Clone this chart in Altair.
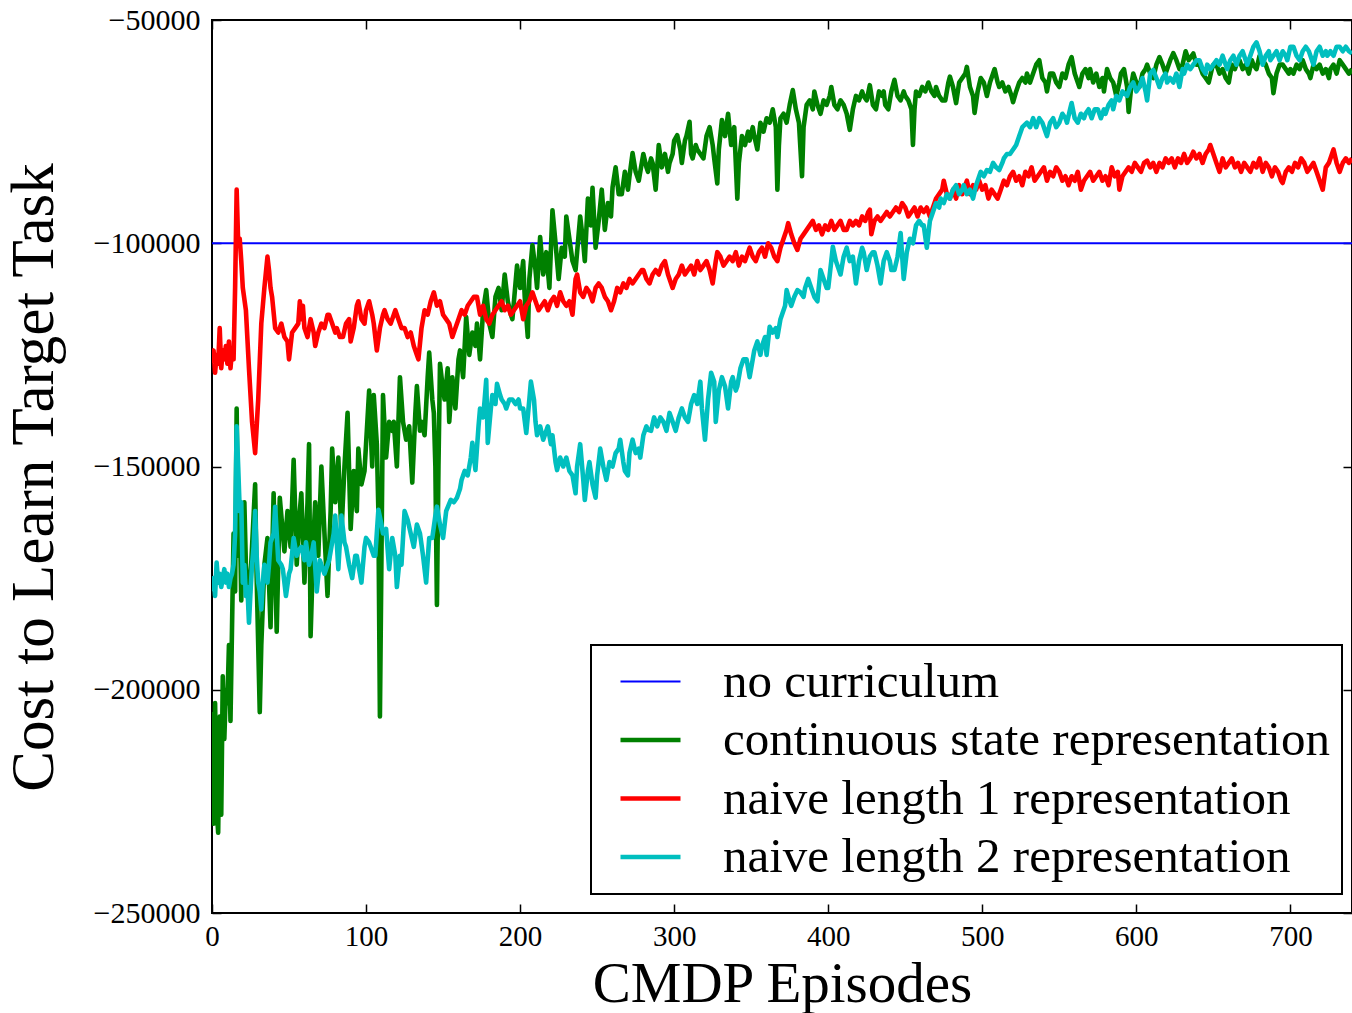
import altair as alt
import pandas as pd

# ---- data (values in thousands) ----
SERIES = ["no curriculum", "continuous state representation",
          "naive length 1 representation", "naive length 2 representation"]
COLORS = ["#0000ff", "#008000", "#ff0000", "#00bfbf"]
WIDTHS = [2, 4.6, 4.6, 4.6]
X_TICKS = [0, 100, 200, 300, 400, 500, 600, 700]
Y_TICKS = [-250000, -200000, -150000, -100000, -50000]

no_curriculum = [(0, -100), (740, -100)]

continuous = [
    (0, -205), (1, -230), (2, -203), (3, -226), (4, -232), (5, -206), (6, -228), (7, -197), (8, -211),
    (9, -200), (10, -203), (11, -190), (12, -207), (13, -186), (14, -165), (15, -178), (16, -137),
    (17, -170), (18, -160), (19, -180), (20, -165), (21, -158), (22, -172), (24, -182), (26, -168),
    (28, -154), (29, -175), (31, -205), (32, -190), (34, -172), (36, -166), (38, -186), (40, -156),
    (42, -187), (44, -157), (46, -165), (47, -169), (49, -160), (51, -168), (53, -148.5), (55, -172),
    (57, -160), (58, -156), (60, -176), (62, -158), (63, -145), (64, -188), (66, -165), (67, -158),
    (69, -170), (71, -150), (73, -165), (75, -179), (77, -160), (78, -146), (80, -158), (82, -148),
    (84, -165), (86, -150), (88, -138), (90, -164), (92, -151), (94, -160), (95, -146), (97, -154),
    (99, -151), (100, -145), (102, -133), (104, -150), (105, -134), (107, -145), (108, -160), (109, -206),
    (110, -170), (111, -134), (113, -148), (115, -140), (117, -142), (118, -140), (120, -150), (122, -130),
    (124, -140), (126, -144), (128, -141), (130, -153.6), (132, -138), (133, -132), (135, -142), (136, -140),
    (138, -143), (140, -130), (141, -124.5), (143, -135), (144, -138), (145, -150), (146, -181), (147, -150),
    (148, -127), (150, -133), (151, -135), (153, -128), (154, -140), (156, -130), (158, -137), (160, -126),
    (161, -124), (163, -130), (165, -116.5), (167, -125), (169, -120), (171, -123), (172, -118), (174, -126),
    (176, -115), (178, -110.5), (180, -118), (182, -121), (184, -112), (186, -110), (188, -115), (190, -107),
    (192, -113), (194, -116), (195, -117), (197, -109), (198, -105), (200, -110), (202, -104), (203, -112),
    (205, -121), (206, -108), (208, -100.4), (210, -106), (211, -110), (213, -98.6), (215, -107), (217, -102),
    (219, -110), (221, -92.6), (223, -100), (225, -108), (227, -101), (229, -103), (230, -94), (232, -99),
    (234, -104), (236, -106), (238, -98), (239, -94), (241, -100), (242, -104), (244, -90), (246, -96),
    (247, -87.6), (249, -101), (251, -95), (253, -88), (255, -97), (257, -91), (259, -94), (260, -87.5),
    (262, -83), (264, -89), (266, -89), (268, -84), (270, -88), (271, -85), (273, -79.8), (275, -84),
    (277, -86), (279, -82), (280, -80), (282, -83), (283, -84), (285, -81), (286, -82), (288, -88),
    (290, -78), (292, -83), (294, -80), (296, -84), (297, -82), (299, -80), (300, -77), (302, -75.8),
    (304, -79), (305, -82), (307, -77), (308, -76), (310, -72.8), (311, -80), (312, -81), (314, -78),
    (315, -79), (317, -80), (319, -81), (321, -76), (323, -74), (325, -78), (326, -81), (328, -86.6),
    (329, -79), (331, -72.4), (333, -76), (335, -71), (337, -78), (338, -76), (339, -74), (341, -90),
    (342, -82), (344, -76), (346, -78), (348, -75), (349, -77), (351, -74), (352, -76), (354, -79),
    (356, -73), (358, -75), (360, -72), (362, -73), (364, -70), (366, -74), (367, -88), (368, -78),
    (369, -72), (371, -71), (373, -73), (375, -69), (377, -65.7), (379, -70), (381, -73), (383, -85),
    (384, -74), (386, -69), (388, -68), (390, -70), (391, -66), (393, -69), (395, -71), (397, -68),
    (399, -69), (401, -67), (402, -65), (404, -69), (406, -70), (408, -68), (410, -69), (412, -71),
    (414, -74.6), (416, -70), (418, -67), (420, -68), (422, -66), (423, -67), (425, -68), (427, -64.6),
    (429, -69), (431, -70), (433, -66), (435, -67), (436, -66), (437, -69), (439, -70), (441, -66),
    (443, -63.4), (445, -67), (447, -68), (449, -66), (450, -67), (452, -68), (454, -70), (455, -78),
    (456, -70), (457, -66), (459, -67), (461, -65), (463, -66), (465, -64), (467, -66), (469, -67),
    (470, -65), (472, -67), (474, -68), (476, -68), (478, -64), (479, -62.7), (481, -65), (483, -68.6),
    (485, -64), (487, -63), (489, -62), (490, -60.5), (492, -65), (494, -67), (495, -70.8), (497, -66),
    (499, -63), (501, -64), (503, -67), (505, -64), (507, -62), (508, -61), (510, -64), (511, -65),
    (513, -64), (515, -66), (517, -65), (519, -67), (520, -68.4), (522, -66), (524, -64), (526, -63),
    (528, -64), (529, -62), (531, -64), (533, -62), (535, -60), (537, -59), (539, -63), (541, -64),
    (542, -66), (544, -62), (546, -62), (548, -64), (550, -65), (552, -62), (554, -63), (556, -60),
    (558, -58.3), (560, -62), (562, -64), (563, -65), (565, -62), (567, -61), (569, -63), (570, -61),
    (572, -64), (574, -62), (576, -65), (578, -63), (579, -66), (581, -61), (583, -63), (585, -64),
    (587, -67), (589, -64), (590, -62), (592, -61), (594, -65), (595, -70.6), (597, -64), (598, -62),
    (600, -64), (602, -65), (604, -62), (606, -61), (607, -60), (609, -62), (611, -63), (613, -60),
    (615, -58.3), (617, -60), (619, -62), (620, -61), (622, -59), (624, -57.4), (626, -59), (628, -61),
    (630, -60), (632, -57), (634, -59), (636, -58), (637, -57.5), (639, -60), (641, -60), (643, -62),
    (645, -63), (647, -64), (649, -61), (650, -60), (652, -60), (654, -62), (656, -61), (658, -63),
    (660, -64), (662, -60), (664, -61), (666, -59), (667, -59), (669, -61), (671, -60), (673, -62),
    (675, -59), (676, -60), (678, -61), (680, -58), (682, -59), (684, -60), (686, -62), (688, -63),
    (689, -66.4), (691, -62), (693, -60), (695, -60), (697, -61), (699, -62), (700, -61), (702, -62),
    (704, -60), (706, -61), (708, -59), (710, -61), (712, -62), (713, -63), (715, -60), (717, -61),
    (719, -60), (721, -62), (723, -61), (725, -63), (726, -61), (728, -60), (730, -62), (732, -59),
    (734, -60), (736, -61), (738, -62), (740, -61),
]

naive1 = [
    (0, -127), (1, -124), (2, -129), (3, -125), (4, -127), (5, -119), (6, -128), (7, -124), (8, -126),
    (9, -123), (10, -127), (11, -122), (12, -128), (13, -124), (14, -126), (15, -110), (16, -88),
    (17, -100), (18, -99), (19, -104), (20, -110), (22, -115), (24, -128), (26, -140), (28, -147),
    (30, -135), (32, -118), (34, -110), (36, -103), (37, -106), (38, -110), (39, -112), (41, -119),
    (43, -120), (45, -118), (47, -121), (49, -122), (50, -126), (52, -120), (54, -119), (56, -118),
    (57, -113), (58, -117), (59, -114), (60, -119), (62, -121), (64, -117), (66, -120), (67, -123),
    (69, -120), (71, -118), (73, -119), (75, -116), (76, -116), (78, -118), (80, -120), (81, -119),
    (83, -121), (85, -121), (87, -118), (89, -117), (90, -122), (92, -119), (94, -114), (95, -113),
    (97, -117), (99, -118), (100, -115), (102, -113), (104, -116), (105, -118), (107, -124), (109, -119),
    (111, -116), (112, -115), (114, -117), (116, -118), (118, -116), (119, -115), (121, -117), (123, -119),
    (125, -119), (127, -121), (129, -120), (131, -123), (133, -125), (134, -126), (136, -119), (138, -115),
    (140, -116), (142, -113), (144, -111), (146, -114), (148, -113), (150, -116), (152, -117), (154, -118),
    (156, -121), (158, -119), (160, -117), (162, -115), (164, -116), (166, -114), (168, -113), (170, -112),
    (172, -112), (174, -116), (176, -114), (178, -117), (180, -118), (182, -116), (184, -115), (186, -114),
    (188, -113), (190, -115), (192, -114), (194, -116), (196, -115), (198, -114), (200, -113), (202, -117),
    (204, -114), (206, -113), (208, -111), (210, -113), (212, -115), (214, -114), (216, -113), (218, -115),
    (220, -113), (222, -112), (224, -114), (226, -111), (228, -113), (230, -114), (232, -113), (234, -116),
    (236, -108), (237, -107), (239, -111), (241, -112), (243, -110), (245, -111), (247, -113), (249, -110),
    (251, -109), (253, -110), (255, -112), (257, -113), (259, -115), (261, -113), (263, -110), (265, -111),
    (267, -109), (269, -110), (271, -108), (273, -109), (275, -108), (277, -107), (279, -106), (280, -106),
    (282, -108), (284, -109), (286, -107), (288, -106), (290, -107), (292, -105), (294, -104), (296, -107),
    (298, -109), (299, -110), (301, -108), (303, -107), (305, -105), (307, -107), (309, -106), (311, -105),
    (313, -107), (315, -104), (317, -106), (319, -105), (321, -104), (323, -106), (325, -109), (327, -104),
    (328, -102), (330, -103), (332, -105), (334, -104), (336, -103), (338, -104), (340, -102), (342, -105),
    (344, -103), (346, -104), (348, -102), (349, -101), (351, -103), (353, -104), (355, -102), (357, -101),
    (359, -103), (361, -100), (363, -101), (365, -103), (367, -104), (369, -101), (371, -99), (373, -97),
    (374, -95.5), (376, -98), (378, -100), (380, -101.5), (382, -99), (384, -98), (386, -97), (388, -96),
    (390, -95), (392, -97), (394, -96), (396, -98), (398, -96), (400, -97), (402, -95), (404, -97),
    (406, -96), (408, -95), (410, -97), (412, -97), (414, -95), (416, -96), (418, -95), (420, -96),
    (422, -94), (424, -95), (426, -93), (427, -92.5), (428, -98), (430, -95), (432, -94), (434, -95),
    (436, -94), (438, -93), (440, -94), (442, -93), (444, -92), (446, -93), (448, -91), (450, -92),
    (452, -94), (454, -93), (456, -92), (458, -94), (460, -92), (462, -93), (464, -92), (466, -94),
    (468, -92), (470, -90), (472, -89), (474, -88), (475, -86), (477, -89), (479, -90), (481, -88),
    (483, -90), (485, -87), (487, -89), (488, -88), (490, -86), (492, -89), (494, -87), (496, -88),
    (498, -86), (500, -88), (502, -87), (504, -90), (506, -88), (508, -89), (510, -90), (512, -88),
    (514, -86), (516, -87), (518, -85), (520, -84), (522, -86), (524, -85), (526, -87), (528, -84),
    (530, -85), (532, -83), (534, -86), (536, -85), (538, -84), (540, -83), (542, -86), (544, -84),
    (546, -85), (548, -83), (550, -84), (552, -86), (554, -85), (556, -87), (558, -85), (560, -86),
    (562, -84), (564, -88), (566, -86), (568, -85), (570, -84), (572, -86), (574, -85), (576, -84),
    (578, -86), (580, -85), (582, -87), (584, -83), (586, -85), (588, -84), (589, -88), (591, -85),
    (593, -84), (595, -83), (597, -84), (599, -82), (601, -83), (603, -84), (605, -82), (607, -81.5),
    (609, -83), (611, -82), (613, -84), (615, -82), (617, -83), (619, -81), (621, -82), (623, -81),
    (625, -83), (627, -81), (629, -82), (631, -80), (633, -82), (635, -81), (637, -79.5), (639, -81),
    (641, -80), (643, -82), (645, -80), (647, -79), (648, -78), (650, -80), (652, -82), (654, -84),
    (656, -81), (658, -83), (660, -82), (662, -81), (664, -83), (666, -82), (668, -84), (670, -82),
    (672, -83), (674, -84), (676, -82), (678, -83), (680, -81), (682, -84), (684, -82), (686, -83),
    (688, -85), (690, -83), (692, -84), (694, -86), (695, -86.5), (697, -84), (699, -83), (701, -84),
    (703, -82), (705, -83), (707, -81), (709, -82), (711, -84), (713, -83), (715, -82), (717, -84),
    (719, -86), (721, -88), (723, -83), (725, -82), (727, -80), (728, -79), (730, -82), (732, -84),
    (734, -82), (736, -81), (738, -82), (740, -81),
]

naive2 = [
    (0, -178), (1, -175), (2, -179), (3, -171.5), (4, -176), (5, -174), (6, -177), (7, -175), (8, -173),
    (9, -176), (10, -174), (11, -177), (12, -175), (13, -174), (14, -172), (15, -165), (16, -141),
    (17, -150), (18, -160), (19, -158), (20, -176), (21, -172), (22, -179), (23, -177), (24, -185),
    (25, -178), (26, -172), (27, -168), (28, -160), (29, -170), (30, -176), (31, -178), (32, -182),
    (33, -176), (34, -172), (35, -174), (36, -176), (37, -172), (38, -167), (40, -165), (41, -159),
    (42, -165), (43, -171), (45, -172), (46, -173), (47, -176), (48, -179), (50, -174), (51, -173),
    (53, -166), (55, -170), (56, -169), (58, -168), (60, -171), (61, -167), (63, -172), (65, -169),
    (66, -167), (68, -178), (70, -171), (71, -172), (73, -174), (74, -173), (76, -171), (77, -169),
    (79, -165), (80, -161), (82, -173), (84, -161), (86, -167), (87, -168), (89, -172), (91, -175),
    (93, -170), (94, -170), (96, -174), (97, -176), (99, -168), (100, -166), (102, -167), (103, -168),
    (105, -170), (106, -170), (108, -159.7), (110, -163), (111, -165), (113, -164), (115, -173), (117, -166),
    (119, -170), (120, -177), (122, -170), (123, -172), (125, -160), (127, -162), (129, -165), (131, -168),
    (133, -163), (135, -165), (137, -170), (139, -176), (141, -166), (143, -166), (145, -161), (146, -159),
    (148, -163), (150, -166), (152, -160), (155, -157.5), (157, -158), (159, -157), (161, -155), (162, -153),
    (164, -151), (166, -152), (168, -148), (169, -144.7), (171, -150.8), (173, -141), (174, -137), (176, -139),
    (177, -135), (178, -130.6), (179, -144.7), (181, -137), (182, -134), (184, -136), (185, -131.5), (187, -134),
    (188, -135), (190, -136), (191, -137), (193, -135), (195, -135), (197, -136), (199, -135), (200, -137),
    (202, -137), (204, -142.5), (206, -135), (207, -131), (209, -135), (210, -140), (211, -143), (213, -141),
    (215, -144), (217, -142), (218, -141), (220, -145), (221, -143), (223, -149), (224, -150.8), (226, -148),
    (228, -150), (230, -148), (232, -151), (234, -152), (236, -156), (237, -150), (239, -145), (241, -153),
    (242, -157.5), (244, -151), (245, -149), (247, -154), (249, -157), (250, -152), (252, -146), (254, -150),
    (256, -153), (258, -149), (260, -150), (262, -147), (264, -146), (265, -144), (267, -149), (268, -151),
    (270, -152), (271, -147), (273, -144), (275, -147), (277, -146), (278, -148), (280, -143), (282, -141),
    (283, -141.8), (285, -142), (287, -139), (289, -141), (291, -139), (293, -140), (295, -142), (297, -138),
    (299, -140), (301, -142), (303, -139), (305, -137), (307, -139), (309, -140), (311, -136), (313, -134),
    (315, -136), (317, -131), (318, -137), (320, -144), (322, -135), (324, -129), (326, -131), (327, -140),
    (329, -133), (331, -130), (333, -132), (335, -137), (337, -131), (338, -130), (340, -133), (341, -132),
    (343, -128), (345, -126), (347, -126), (349, -130), (351, -126), (352, -124), (354, -122), (356, -125),
    (357, -123), (359, -121), (360, -125), (362, -118.7), (364, -120), (366, -119), (367, -121), (369, -117),
    (370, -116), (372, -114), (373, -110.5), (375, -113), (376, -114), (378, -112), (380, -110.5), (382, -111),
    (384, -112), (385, -110), (387, -108), (389, -110), (391, -112), (393, -113), (395, -106), (397, -108),
    (399, -110), (400, -110), (402, -104), (403, -100.8), (405, -104), (407, -106), (408, -107), (410, -103),
    (412, -101), (414, -104), (416, -103), (418, -109), (420, -104), (422, -101), (423, -102), (425, -106),
    (427, -103), (429, -102), (430, -102), (432, -105), (434, -109), (436, -104), (438, -102), (440, -104),
    (441, -106), (443, -106), (445, -103), (447, -97.7), (449, -108), (451, -102), (453, -99), (455, -100),
    (457, -96), (459, -95), (461, -96), (462, -96), (464, -101), (466, -95), (468, -93), (470, -91),
    (472, -92), (473, -90), (475, -91), (477, -89), (479, -90), (481, -88), (483, -87), (485, -89),
    (487, -88), (488, -87), (490, -89), (492, -88), (494, -90), (496, -87), (498, -85), (499, -84),
    (501, -85), (503, -83.6), (505, -84), (507, -82), (509, -83), (511, -83.6), (513, -82), (514, -81),
    (516, -80), (518, -80), (520, -79), (522, -78), (524, -76), (526, -74), (529, -73), (531, -74),
    (533, -72), (535, -74), (537, -72), (539, -73), (541, -75), (542, -76), (544, -73), (546, -72),
    (548, -74), (550, -73), (552, -71), (554, -72), (555, -73), (557, -70), (558, -68.6), (560, -72),
    (562, -73), (564, -71), (566, -72), (567, -71), (569, -70), (571, -72), (573, -70), (575, -70),
    (577, -72), (579, -70), (580, -71), (582, -69), (584, -68), (585, -70), (587, -67), (589, -68),
    (591, -66), (594, -67), (596, -65), (598, -64), (600, -66), (602, -65), (604, -63), (606, -66),
    (607, -68), (609, -62), (611, -61.2), (613, -63), (615, -65), (617, -63), (619, -62), (620, -64),
    (622, -63), (624, -64), (626, -62), (628, -65), (630, -61), (631, -62), (633, -60), (635, -61),
    (637, -60), (639, -59), (641, -59), (643, -61), (645, -62), (646, -60), (648, -61), (650, -60),
    (652, -59), (654, -60), (656, -58), (658, -60), (659, -61), (661, -59), (663, -58), (665, -60),
    (667, -58), (669, -57), (671, -59), (672, -60), (674, -58), (676, -56), (678, -55), (680, -57),
    (682, -60), (684, -58), (686, -57), (687, -59), (689, -58), (691, -57), (693, -59), (695, -57),
    (697, -58), (698, -59), (700, -56), (702, -56), (704, -58), (706, -59), (708, -57), (710, -56),
    (712, -57), (714, -59), (715, -60), (717, -57), (719, -56), (721, -58), (723, -57), (724, -58),
    (726, -57), (728, -58), (730, -56), (732, -56), (734, -57), (736, -56), (738, -57), (740, -57.5),
]

rows = []
for name, pts in zip(SERIES, [no_curriculum, continuous, naive1, naive2]):
    for ep, v in pts:
        rows.append({"episode": ep, "cost": v * 1000, "series": name})
df = pd.DataFrame(rows)

W, H = 1140, 893
FONT = "Liberation Serif"

x_scale = alt.Scale(domain=[0, 740], nice=False, zero=False)
y_scale = alt.Scale(domain=[-250000, -50000], nice=False, zero=False)
color_scale = alt.Scale(domain=SERIES, range=COLORS)

# legend symbol widths follow each entry (thin for the baseline)
sym_width_expr = "datum.value === '%s' ? %s : %s" % (SERIES[0], WIDTHS[0], WIDTHS[1])

legend = alt.Legend(
    title=None, orient="none", legendX=379, legendY=625, direction="vertical",
    symbolType="stroke", symbolSize=3600, symbolOffset=23,
    symbolStrokeWidth=alt.ExprRef(expr=sym_width_expr),
    labelFont=FONT, labelFontSize=49, labelOffset=48, labelLimit=1000,
    padding=12, rowPadding=8.5, strokeColor="black", fillColor="white",
)

label_x_axis = alt.Axis(values=X_TICKS, title="CMDP Episodes", titleFontSize=57,
                        titleFont=FONT, titleFontWeight="normal", titleY=88,
                        titleBaseline="alphabetic", labelFontSize=29, labelFont=FONT,
                        tickSize=0, labelPadding=9, domain=False, grid=False,
                        labelFlush=False, format="d",
                        labelColor="black", titleColor="black")
label_y_axis = alt.Axis(values=Y_TICKS, title="Cost to Learn Target Task", titleFontSize=61,
                        titleFont=FONT, titleFontWeight="normal", titleAngle=270,
                        titleX=-160, titleY=457, titleBaseline="alphabetic", titleAlign="center",
                        labelFontSize=30, labelFont=FONT, tickSize=0, labelPadding=12,
                        domain=False, grid=False, labelColor="black", titleColor="black",
                        labelBaseline="middle", labelFlush=False, format="d")


def tick_axis(values, orient, offset):
    return alt.Axis(values=values, orient=orient, offset=offset, labels=False, title=None,
                    tickSize=9, tickWidth=1.5, tickColor="black", domain=False, grid=False)


def layer(i, xaxis, yaxis, with_legend=False):
    name = SERIES[i]
    return alt.Chart(df).transform_filter(
        alt.datum.series == name
    ).mark_line(clip=True, strokeJoin="round", strokeWidth=WIDTHS[i]).encode(
        x=alt.X("episode:Q", scale=x_scale, axis=xaxis),
        y=alt.Y("cost:Q", scale=y_scale, axis=yaxis),
        color=alt.Color("series:N", scale=color_scale, legend=legend if with_legend else None),
    )


blue = layer(0, label_x_axis, label_y_axis, with_legend=True)
green = layer(1, tick_axis(X_TICKS, "top", -H), tick_axis(Y_TICKS, "right", -W))
red = layer(2, tick_axis(X_TICKS, "bottom", -H), tick_axis(Y_TICKS, "left", -W))
cyan = layer(3, None, None)

chart = alt.layer(blue, green, red, cyan).resolve_axis(
    x="independent", y="independent"
).properties(
    width=W, height=H,
    autosize=alt.AutoSizeParams(type="none"),
    padding={"left": 212, "top": 20, "right": 0, "bottom": 100},
    background="white",
).configure_view(
    stroke="black", strokeWidth=2
).configure_legend(
    strokeWidth=2
)

chart.save("out.html", embed_options={"renderer": "svg", "actions": False})
